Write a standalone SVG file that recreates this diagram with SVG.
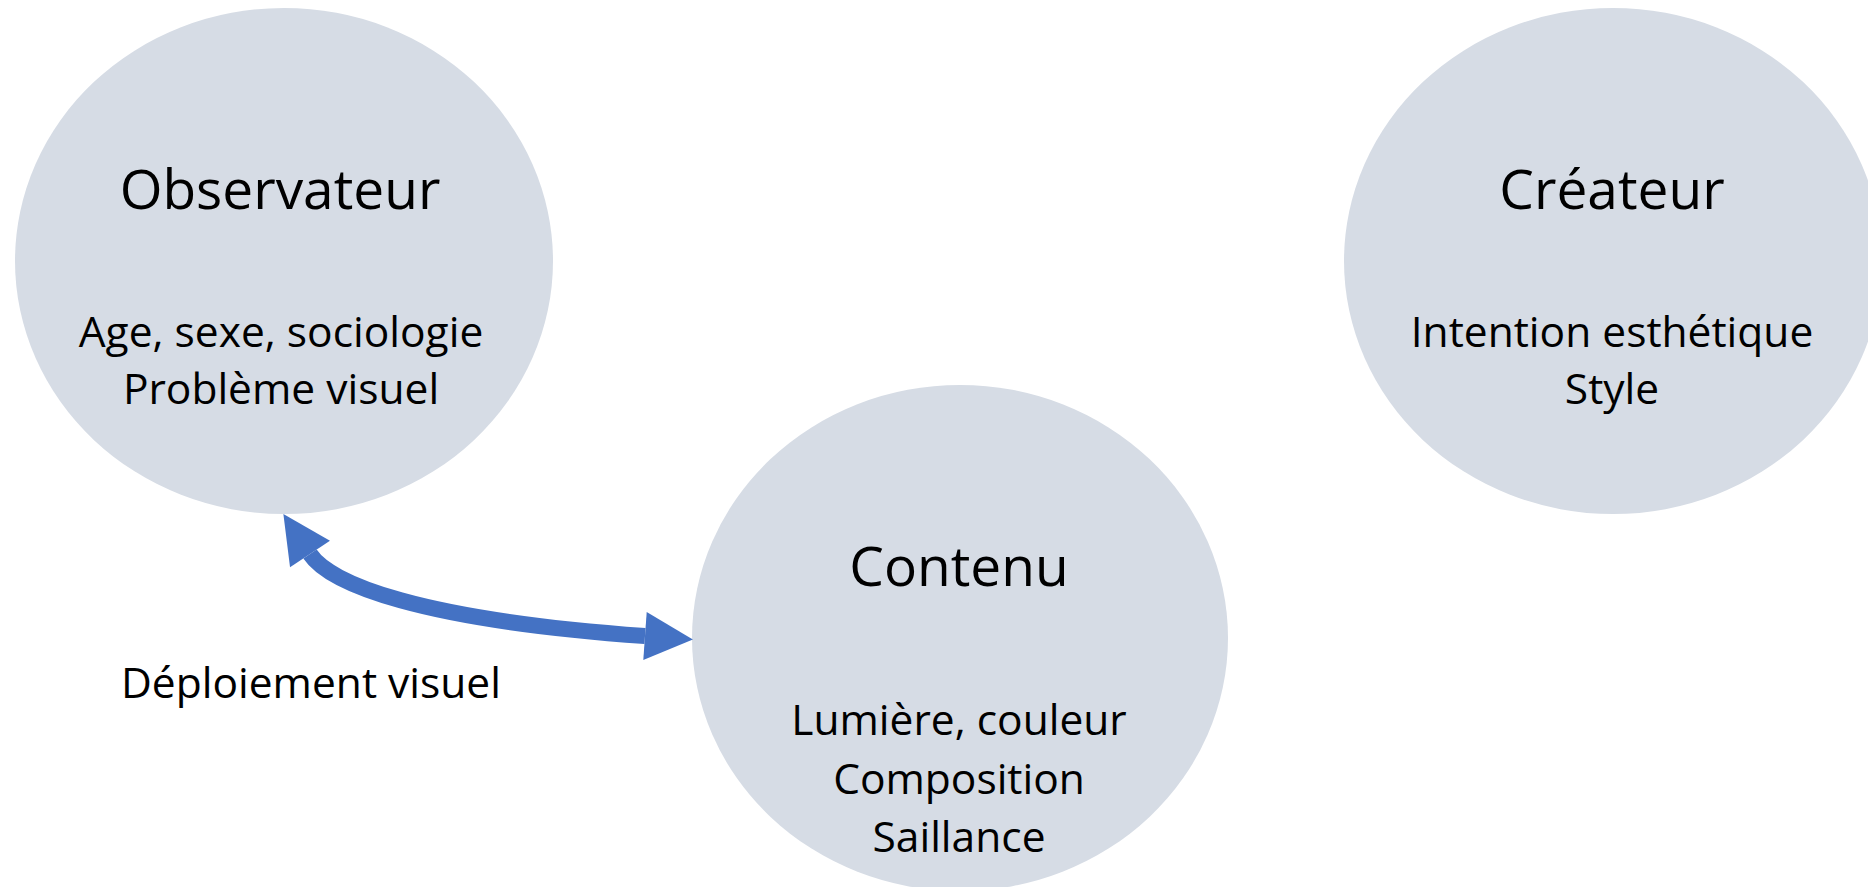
<svg xmlns="http://www.w3.org/2000/svg" width="1868" height="887" viewBox="0 0 1868 887">
<style>
.node{fill:#D6DCE5}
.t{font-family:"Open Sans","Noto Sans",sans-serif;fill:#000;text-anchor:middle}
.title{font-size:55px}
.sub{font-size:42.5px}
.conn{fill:none;stroke:#4472C4;stroke-width:16}
</style>
<defs>
<marker id="head" markerUnits="userSpaceOnUse" markerWidth="50" markerHeight="50" viewBox="0 -25 50 50" refX="0" refY="0" orient="auto-start-reverse" overflow="visible">
<path d="M0,-24 L48,0 L0,24 Z" fill="#4472C4"/>
</marker>
</defs>
<rect width="1868" height="887" fill="#fff"/>
<g id="observateur">
<ellipse class="node" cx="284" cy="261" rx="269" ry="253"/>
<text class="t title" x="280" y="209">Observateur</text>
<text class="t sub" x="281" y="347">Age, sexe, sociologie</text>
<text class="t sub" x="281" y="404">Problème visuel</text>
</g>
<g id="createur">
<ellipse class="node" cx="1613" cy="261" rx="269" ry="253"/>
<text class="t title" x="1612" y="209">Créateur</text>
<text class="t sub" x="1612" y="347">Intention esthétique</text>
<text class="t sub" x="1612" y="404">Style</text>
</g>
<g id="contenu">
<ellipse class="node" cx="960" cy="638" rx="268" ry="253"/>
<text class="t title" x="959" y="586">Contenu</text>
<text class="t sub" x="959" y="735">Lumière, couleur</text>
<text class="t sub" x="959" y="794">Composition</text>
<text class="t sub" x="959" y="852">Saillance</text>
</g>
<g id="connectors">
<path class="conn" d="M310,554 C330,584 420,620 645,636" marker-start="url(#head)" marker-end="url(#head)"/>
</g>
<g id="label">
<text class="t sub" x="311" y="698">Déploiement visuel</text>
</g>
</svg>
